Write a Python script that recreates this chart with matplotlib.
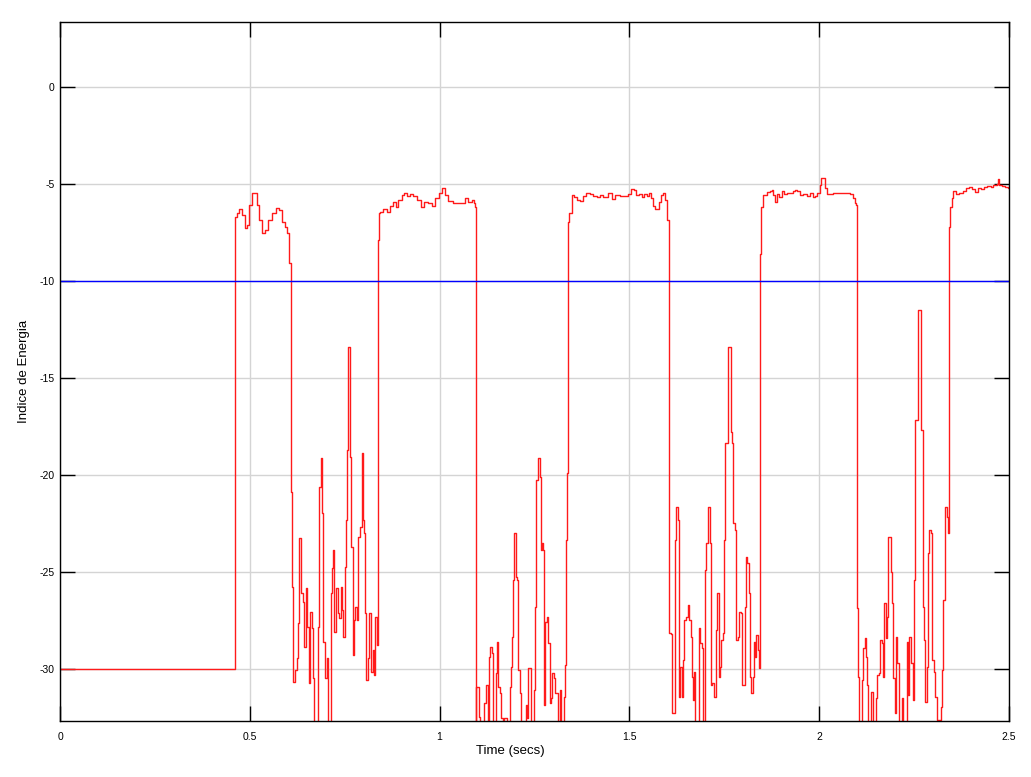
import numpy as np
import matplotlib
matplotlib.use("Agg")
import matplotlib.pyplot as plt

plt.rcParams['font.family'] = ['Liberation Sans', 'DejaVu Sans']
plt.rcParams['axes.unicode_minus'] = False

# reposo inicial (indice fijo en -30)
t_reposo = [0.0, 0.4618]
e_reposo = [-30.0, -30.0]

# primer tramo activo + rafaga
t_tramo1 = [0.4618, 0.4655, 0.4716, 0.4787, 0.4874, 0.4918, 0.4987, 0.5050, 0.5163, 0.5198,
            0.5250, 0.5314, 0.5401, 0.5487, 0.5577, 0.5690, 0.5777, 0.5840, 0.5927, 0.5988,
            0.6025, 0.6041, 0.6072, 0.6112, 0.6146, 0.6191, 0.6236, 0.6278, 0.6304, 0.6341,
            0.6394, 0.6428, 0.6473, 0.6515, 0.6552, 0.6586, 0.6639, 0.6673, 0.6699, 0.6762,
            0.6789, 0.6823, 0.6868, 0.6894, 0.6936, 0.6981, 0.7026, 0.7068, 0.7113, 0.7131,
            0.7158, 0.7200, 0.7226, 0.7271, 0.7316, 0.7358, 0.7395, 0.7437, 0.7463, 0.7500,
            0.7534, 0.7569, 0.7595, 0.7621, 0.7640, 0.7674, 0.7711, 0.7745, 0.7779, 0.7816,
            0.7850, 0.7903, 0.7948, 0.7974, 0.8009, 0.8043, 0.8069, 0.8114, 0.8148, 0.8193,
            0.8238, 0.8272, 0.8306, 0.8343]
e_tramo1 = [-6.67, -6.50, -6.29, -6.58, -7.27, -7.10, -6.07, -5.43, -5.43, -6.07,
            -6.84, -7.49, -7.36, -6.84, -6.50, -6.24, -6.32, -6.93, -7.19, -7.53,
            -7.70, -9.07, -20.85, -25.74, -30.64, -30.04, -29.43, -27.63, -23.25, -26.08,
            -26.51, -28.83, -25.83, -27.80, -30.72, -27.03, -27.89, -30.46, -33.0, -33.0,
            -27.80, -20.59, -19.12, -21.96, -28.58, -30.46, -29.43, -33.0, -33.0, -26.08,
            -24.79, -23.85, -28.06, -25.83, -27.11, -27.37, -25.74, -26.94, -28.32, -24.71,
            -22.30, -18.70, -13.37, -13.37, -19.04, -23.68, -29.26, -27.46, -26.77, -27.46,
            -23.16, -22.65, -18.87, -22.30, -22.99, -27.11, -30.55, -29.43, -27.11, -30.12,
            -29.00, -30.29, -27.29, -28.75]

# segundo tramo activo + rafaga
t_tramo2 = [0.8369, 0.8391, 0.8430, 0.8501, 0.8607, 0.8693, 0.8780, 0.8852, 0.8912, 0.9002,
            0.9062, 0.9134, 0.9220, 0.9307, 0.9397, 0.9502, 0.9589, 0.9703, 0.9808, 0.9879,
            0.9992, 1.0071, 1.0142, 1.0229, 1.0361, 1.0493, 1.0582, 1.0669, 1.0756, 1.0846,
            1.0906, 1.0933, 1.0951, 1.0959, 1.1004, 1.1030, 1.1064, 1.1152, 1.1178, 1.1215,
            1.1249, 1.1267, 1.1293, 1.1301, 1.1336, 1.1373, 1.1399, 1.1441, 1.1478, 1.1512,
            1.1547, 1.1583, 1.1618, 1.1662, 1.1689, 1.1723, 1.1768, 1.1828, 1.1855, 1.1881,
            1.1907, 1.1934, 1.1952, 1.1986, 1.2005, 1.2039, 1.2073, 1.2118, 1.2144, 1.2231,
            1.2268, 1.2303, 1.2337, 1.2374, 1.2400, 1.2453, 1.2487, 1.2513, 1.2540, 1.2584,
            1.2619, 1.2645, 1.2671, 1.2705, 1.2732, 1.2750, 1.2777, 1.2821, 1.2864, 1.2901,
            1.2935, 1.2969, 1.3006, 1.3040, 1.3085, 1.3127, 1.3164, 1.3198, 1.3259, 1.3285,
            1.3304, 1.3330, 1.3356, 1.3375]
e_tramo2 = [-7.87, -6.50, -6.41, -6.29, -6.41, -6.12, -5.90, -6.15, -5.81, -5.55,
            -5.43, -5.60, -5.50, -5.60, -5.81, -6.19, -5.90, -5.95, -6.12, -5.72,
            -5.43, -5.21, -5.55, -5.85, -5.98, -5.95, -5.98, -5.72, -5.90, -5.81,
            -5.98, -6.15, -33.0, -30.90, -30.90, -32.44, -33.0, -33.0, -31.75, -30.81,
            -30.81, -33.0, -33.0, -29.35, -28.83, -29.18, -33.0, -33.0, -30.21, -28.58,
            -30.90, -31.24, -32.53, -33.0, -32.53, -32.53, -33.0, -33.0, -30.90, -29.87,
            -28.32, -25.40, -22.99, -22.99, -25.23, -25.40, -30.04, -31.24, -33.0, -33.0,
            -31.84, -32.53, -29.95, -29.95, -33.0, -33.0, -31.07, -26.77, -20.24, -19.12,
            -19.12, -20.07, -23.85, -23.51, -23.85, -31.84, -27.55, -27.29, -28.66, -31.75,
            -31.50, -30.21, -30.46, -31.24, -31.24, -33.0, -31.07, -33.0, -33.0, -31.41,
            -29.78, -23.34, -19.90, -15.00]

# tercer tramo activo + rafaga
t_tramo3 = [1.3382, 1.3417, 1.3480, 1.3549, 1.3612, 1.3699, 1.3786, 1.3857, 1.3962, 1.4049,
            1.4139, 1.4226, 1.4313, 1.4444, 1.4534, 1.4621, 1.4753, 1.4884, 1.4971, 1.5034,
            1.5121, 1.5174, 1.5261, 1.5324, 1.5385, 1.5456, 1.5509, 1.5561, 1.5614, 1.5674,
            1.5735, 1.5772, 1.5825, 1.5893, 1.5938, 1.5982, 1.6030, 1.6051, 1.6096, 1.6122,
            1.6175, 1.6193, 1.6220, 1.6254, 1.6281, 1.6307, 1.6341, 1.6378, 1.6404, 1.6438,
            1.6491, 1.6544, 1.6578, 1.6615, 1.6642, 1.6675, 1.6702, 1.6736, 1.6800, 1.6826,
            1.6860, 1.6905, 1.6931, 1.6973, 1.6992, 1.7026, 1.7063, 1.7097, 1.7124, 1.7150,
            1.7184, 1.7221, 1.7255, 1.7281, 1.7316, 1.7353, 1.7387, 1.7421, 1.7466, 1.7492,
            1.7526, 1.7563, 1.7597, 1.7650, 1.7668, 1.7703, 1.7737, 1.7782, 1.7816, 1.7853,
            1.7895, 1.7940, 1.7974, 1.8011, 1.8038, 1.8072, 1.8106, 1.8143, 1.8177, 1.8211,
            1.8248, 1.8274, 1.8309, 1.8343, 1.8380, 1.8406]
e_tramo3 = [-6.93, -6.50, -5.55, -5.64, -5.81, -5.86, -5.60, -5.43, -5.50, -5.60,
            -5.64, -5.57, -5.67, -5.46, -5.77, -5.55, -5.60, -5.60, -5.50, -5.26,
            -5.29, -5.55, -5.50, -5.64, -5.52, -5.60, -5.46, -5.72, -6.12, -6.29,
            -6.29, -5.90, -5.55, -5.43, -5.81, -6.84, -7.50, -28.14, -28.20, -32.27,
            -32.27, -23.34, -21.62, -21.62, -22.30, -31.41, -29.87, -31.41, -29.52, -27.46,
            -27.29, -26.69, -27.46, -28.32, -30.38, -31.58, -30.12, -33.0, -33.0, -27.89,
            -28.66, -28.92, -33.0, -33.0, -24.88, -23.51, -21.62, -21.62, -23.51, -30.81,
            -30.72, -31.41, -31.41, -27.97, -26.08, -30.38, -29.87, -28.49, -28.14, -23.34,
            -18.35, -18.35, -13.37, -13.37, -17.75, -18.35, -22.47, -22.82, -28.49, -28.32,
            -27.03, -27.11, -30.81, -30.81, -26.77, -24.20, -24.54, -26.08, -30.38, -31.24,
            -30.38, -28.58, -29.35, -28.23, -29.00, -29.95]

# cuarto tramo activo + rafaga
t_tramo4 = [1.8428, 1.8460, 1.8528, 1.8617, 1.8704, 1.8765, 1.8791, 1.8836, 1.8880, 1.8949,
            1.9012, 1.9081, 1.9144, 1.9213, 1.9302, 1.9363, 1.9423, 1.9494, 1.9581, 1.9671,
            1.9758, 1.9829, 1.9890, 1.9950, 2.0021, 2.0047, 2.0126, 2.0153, 2.0197, 2.0284,
            2.0372, 2.0461, 2.0548, 2.0680, 2.0811, 2.0882, 2.0943, 2.0969, 2.0987, 2.1030,
            2.1056, 2.1101, 2.1127, 2.1162, 2.1199, 2.1225, 2.1252, 2.1286, 2.1320, 2.1357,
            2.1391, 2.1426, 2.1470, 2.1497, 2.1531, 2.1568, 2.1602, 2.1647, 2.1689, 2.1715,
            2.1752, 2.1786, 2.1820, 2.1865, 2.1891, 2.1918, 2.1952, 2.1989, 2.2023, 2.2057,
            2.2094, 2.2147, 2.2181, 2.2216, 2.2260, 2.2305, 2.2339, 2.2366, 2.2400, 2.2427,
            2.2464, 2.2490, 2.2524, 2.2569, 2.2595, 2.2648, 2.2674, 2.2708, 2.2727, 2.2761,
            2.2795, 2.2832, 2.2858, 2.2901, 2.2945, 2.2980, 2.3024, 2.3059, 2.3096, 2.3164,
            2.3201, 2.3235, 2.3270, 2.3307, 2.3341, 2.3367, 2.3393]
e_tramo4 = [-8.60, -6.15, -5.55, -5.38, -5.33, -5.29, -5.55, -5.90, -5.50, -5.67,
            -5.33, -5.50, -5.46, -5.43, -5.33, -5.29, -5.33, -5.55, -5.50, -5.60,
            -5.43, -5.67, -5.60, -5.46, -5.04, -4.69, -4.69, -5.21, -5.50, -5.50,
            -5.43, -5.46, -5.43, -5.46, -5.50, -5.72, -5.95, -6.07, -26.86, -30.38,
            -33.0, -33.0, -30.55, -28.92, -28.40, -29.35, -30.81, -33.0, -33.0, -31.15,
            -31.15, -33.0, -33.0, -31.50, -30.29, -30.21, -28.49, -28.66, -30.38, -26.60,
            -28.40, -27.29, -23.16, -23.16, -24.97, -26.60, -30.46, -32.27, -28.32, -29.69,
            -33.0, -33.0, -31.50, -33.0, -33.0, -28.58, -31.32, -28.32, -28.32, -29.69,
            -31.58, -25.40, -17.15, -17.15, -11.48, -11.48, -17.66, -17.66, -26.77, -28.49,
            -31.67, -29.87, -24.02, -22.82, -22.99, -29.52, -30.12, -31.41, -32.61, -32.61,
            -31.93, -30.04, -26.43, -21.62, -21.62, -22.13, -22.99]

# quinto tramo activo (hasta el final)
t_tramo5 = [2.3427, 2.3440, 2.3490, 2.3532, 2.3604, 2.3691, 2.3780, 2.3867, 2.3954, 2.4017,
            2.4104, 2.4175, 2.4254, 2.4341, 2.4428, 2.4518, 2.4586, 2.4676, 2.4710, 2.4744,
            2.4808, 2.4895, 2.4982, 2.5070]
e_tramo5 = [-7.19, -6.15, -5.72, -5.33, -5.50, -5.43, -5.33, -5.21, -5.12, -5.26,
            -5.38, -5.21, -5.26, -5.12, -5.09, -5.12, -5.04, -4.98, -4.74, -5.04,
            -5.09, -5.15, -5.21, -5.26]

# umbral
umbral = -10

tiempo = np.array(t_reposo + t_tramo1 + t_tramo2 + t_tramo3 + t_tramo4 + t_tramo5)
energia = np.array(e_reposo + e_tramo1 + e_tramo2 + e_tramo3 + e_tramo4 + e_tramo5)

fig = plt.figure(figsize=(10.31, 7.77), dpi=100)
ax = fig.add_axes([0.0582, 0.0721, 0.9205, 0.9001])

# senal muestreada -> escalones
ax.plot(tiempo, energia, color='#ff1a1a', linewidth=1.0, drawstyle='steps-post')
ax.axhline(umbral, color='#0000ff', linewidth=1.0)

ax.set_xlim(0, 2.5)
ax.set_ylim(-32.66, 3.39)

ax.set_xticks([0, 0.5, 1, 1.5, 2, 2.5])
ax.set_xticklabels(['0', '0.5', '1', '1.5', '2', '2.5'])
ax.set_yticks([0, -5, -10, -15, -20, -25, -30])
ax.set_yticklabels(['0', '-5', '-10', '-15', '-20', '-25', '-30'])

ax.tick_params(direction='in', length=11, width=1, colors='black', labelsize=7.5,
               top=True, right=True)
ax.tick_params(axis='x', pad=8)
ax.tick_params(axis='y', pad=4)

ax.grid(True, color='#d4d4d4', linewidth=1)
ax.set_axisbelow(True)
for s in ax.spines.values():
    s.set_linewidth(1)
    s.set_color('black')

ax.set_xlabel('Time (secs)', fontsize=9.5)
ax.xaxis.set_label_coords(0.475, -0.035)
ax.set_ylabel('Indice de Energia', fontsize=9.5)
ax.yaxis.set_label_coords(-0.032, 0.5)

fig.savefig('out.png', dpi=100)
